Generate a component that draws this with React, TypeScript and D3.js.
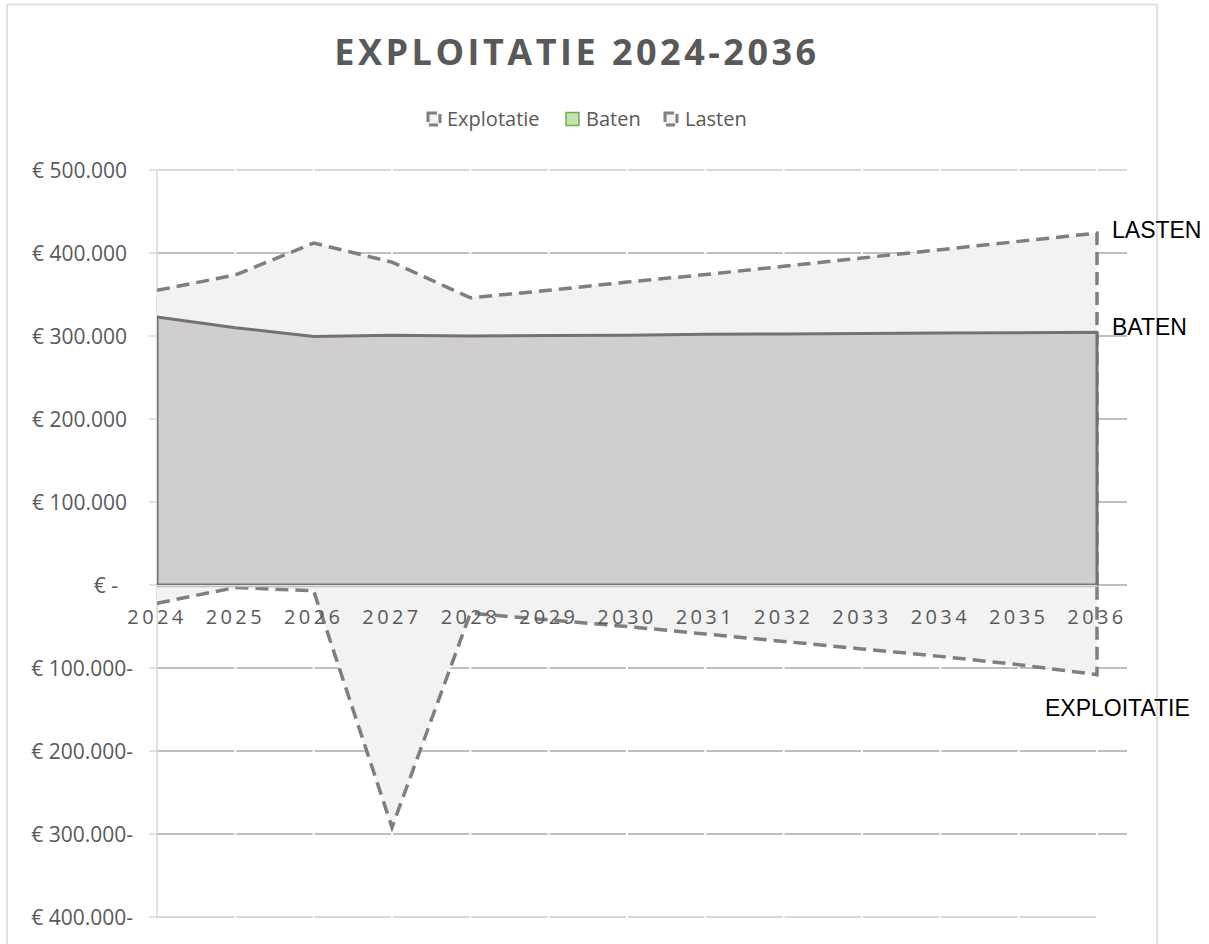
import React from "react";
import * as d3 from "d3";

const years = ["2024","2025","2026","2027","2028","2029","2030","2031","2032","2033","2034","2035","2036"];
const baten = [323000, 310000, 299500, 301000, 300000, 300500, 301000, 302000, 302500, 303000, 303500, 304000, 304500];
const lasten = [355000, 373500, 412000, 389000, 346000, 355000, 365000, 374000, 384000, 394000, 404000, 414000, 424000];
const exploitatie = [-22000, -3000, -7000, -292000, -34000, -42000, -50000, -59000, -68000, -77000, -86000, -96000, -108000];
const yTicks = [500000, 400000, 300000, 200000, 100000, 0, -100000, -200000, -300000, -400000];
const legendItems = ["Explotatie", "Baten", "Lasten"];

const W = 1209, H = 944;
const L = 157, R = 1097, PR = 1127, T = 170, B = 917;

function fmt(v: number): string {
  if (v === 0) return "€ -";
  const s = d3.format(",")(Math.abs(v)).replace(/,/g, ".");
  return v < 0 ? `€ ${s}-` : `€ ${s}`;
}

export default function App() {
  const x = d3.scalePoint<string>().domain(years).range([L, R]);
  const y = d3.scaleLinear().domain([-400000, 500000]).range([B, T]);
  const y0 = y(0);

  const areaGen = d3.area<number>()
    .x((_, i) => x(years[i]) as number)
    .y0(y0)
    .y1((d) => y(d));
  const lineGen = d3.line<number>()
    .x((_, i) => x(years[i]) as number)
    .y((d) => y(d));

  const edge = (vals: number[]) => {
    const last = vals[vals.length - 1];
    return lineGen(vals) + `L${x(years[years.length - 1])},${y(last)}L${x(years[years.length - 1])},${y0}`;
  };

  const font = "'Open Sans', sans-serif";
  const dash = "13 7";
  const grey = "#7f7f7f";

  return (
    <svg width={W} height={H} style={{ position: "absolute", left: 0, top: 0, background: "#fff" }}>
      <defs>
        <clipPath id="plotclip">
          <rect x={L} y={T - 10} width={PR - L} height={B - T + 20} />
        </clipPath>
      </defs>
      <rect x={7} y={4.5} width={1150} height={H + 10} fill="#fff" stroke="#d9d9d9" strokeWidth={1.5} />

      <text x={577} y={65} textAnchor="middle" fontFamily={font} fontWeight={700} fontSize={36} letterSpacing={3.5} fill="#595959">
        EXPLOITATIE 2024-2036
      </text>

      {/* legend */}
      <g fontFamily={font} fontSize={20} fill="#595959">
        <rect x={428} y={113} width={12} height={12} fill="#f2f2f2" stroke={grey} strokeWidth={3} strokeDasharray="9 4" />
        <text x={447} y={126}>{legendItems[0]}</text>
        <rect x={566} y={112.5} width={13} height={13} fill="#c5e0b4" stroke="#70ad47" strokeWidth={1.5} />
        <text x={586} y={126}>{legendItems[1]}</text>
        <rect x={665} y={113} width={12} height={12} fill="#f2f2f2" stroke={grey} strokeWidth={3} strokeDasharray="9 4" />
        <text x={685} y={126}>{legendItems[2]}</text>
      </g>

      {/* gridlines */}
      {yTicks.map((t, i) => (
        <line key={t} x1={L} x2={i === yTicks.length - 1 ? R : PR} y1={y(t)} y2={y(t)}
          stroke={i === 0 || i === yTicks.length - 1 ? "#d9d9d9" : "#bfbfbf"} strokeWidth={2} />
      ))}
      {years.slice(1).map((yr) => (
        <line key={yr} x1={x(yr)} x2={x(yr)} y1={T - 2} y2={B + 2} stroke="#fff" strokeWidth={2} />
      ))}
      {/* y axis */}
      <line x1={L} x2={L} y1={T} y2={B} stroke="#d9d9d9" strokeWidth={1.5} />
      {yTicks.map((t) => (
        <line key={"tk" + t} x1={149} x2={L} y1={y(t)} y2={y(t)} stroke="#d9d9d9" strokeWidth={1.5} />
      ))}

      <g clipPath="url(#plotclip)">
        <path d={areaGen(lasten) as string} fill="#f2f2f2" />
        <path d={edge(lasten)} fill="none" stroke={grey} strokeWidth={3.5} strokeDasharray={dash} />
        <path d={(areaGen(baten) as string) + "Z"} fill="#d0cece" stroke="#767171" strokeWidth={3} strokeLinejoin="round" />
        <path d={areaGen(exploitatie) as string} fill="#f2f2f2" />
        <path d={edge(exploitatie)} fill="none" stroke={grey} strokeWidth={3.5} strokeDasharray={dash} />
      </g>
      <line x1={L} x2={R} y1={y0 + 1.5} y2={y0 + 1.5} stroke="#bfbfbf" strokeWidth={1.5} />

      {/* y labels */}
      <g fontFamily={font} fontSize={21} fill="#595959">
        {yTicks.map((t) => (
          <text key={"yl" + t} x={t === 0 ? 118 : t < 0 ? 133 : 127} y={y(t)} dy="0.36em" textAnchor="end">{fmt(t)}</text>
        ))}
      </g>
      {/* x labels */}
      <g fontFamily={font} fontSize={20} fill="#595959" letterSpacing={3.4}>
        {years.map((yr) => (
          <text key={"xl" + yr} x={x(yr) as number} y={624} textAnchor="middle">{yr}</text>
        ))}
      </g>

      {/* series labels */}
      <g fontFamily="'Liberation Sans', Arial, sans-serif" fontSize={23} fill="#000">
        <text x={1112} y={238}>LASTEN</text>
        <text x={1112} y={335}>BATEN</text>
        <text x={1045} y={716}>EXPLOITATIE</text>
      </g>
    </svg>
  );
}
